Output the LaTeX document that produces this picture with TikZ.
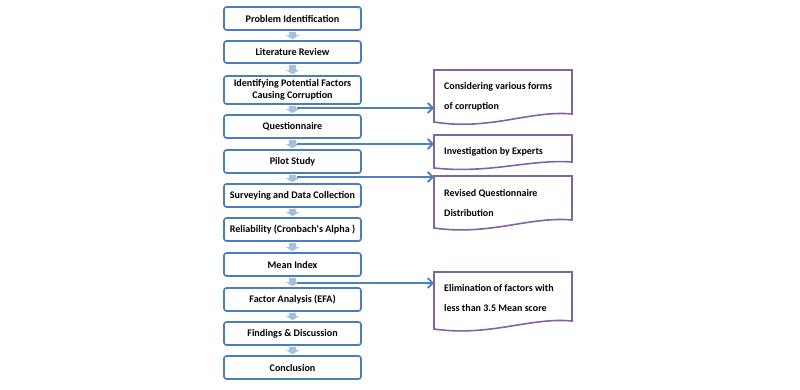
\documentclass[tikz,border=0pt]{standalone}
\usepackage{fontspec}
\setmainfont{Carlito}
\usetikzlibrary{arrows.meta,calc}
\definecolor{boxblue}{HTML}{4A7EBB}
\definecolor{lightarrow}{HTML}{A7BFDE}
\definecolor{linkblue}{HTML}{4F81BD}
\definecolor{docpurple}{HTML}{8064A2}
\tikzset{
  stepbox/.style={draw=boxblue, line width=1.6pt, rounded corners=2.5pt, fill=white,
    minimum width=137pt, inner sep=0pt, align=center, font=\fontsize{10.1}{11.5}\selectfont\bfseries},
  doctext/.style={inner sep=0pt, align=left, anchor=west, font=\fontsize{10}{20}\selectfont\bfseries},
  docline/.style={draw=docpurple, line width=1.6pt, line join=miter},
  linkarrow/.style={draw=linkblue, line width=1.8pt, -{Straight Barb[length=5pt,width=10pt,line width=1.8pt]}},
  smallarrow/.style={fill=lightarrow, draw=none}
}
\begin{document}
\begin{tikzpicture}[x=1pt,y=-1pt]
\useasboundingbox (0,0) rectangle (800,389);
% left boxes
\node[stepbox, minimum height=23pt] (b1) at (292.5,18.5) {Problem Identification};
\node[stepbox, minimum height=22pt] (b2) at (292.5,52) {Literature Review};
\node[stepbox, minimum height=28pt] (b3) at (292.5,90) {Identifying Potential Factors\\Causing Corruption};
\node[stepbox, minimum height=23pt] (b4) at (292.5,126.5) {Questionnaire};
\node[stepbox, minimum height=23pt] (b5) at (292.5,161.5) {Pilot Study};
\node[stepbox, minimum height=23pt] (b6) at (292.5,195.5) {Surveying and Data Collection};
\node[stepbox, minimum height=23pt] (b7) at (292.5,229.5) {Reliability (Cronbach\textquotesingle s Alpha )};
\node[stepbox, minimum height=23pt] (b8) at (292.5,264.5) {Mean Index};
\node[stepbox, minimum height=23pt] (b9) at (292.5,299.5) {Factor Analysis (EFA)};
\node[stepbox, minimum height=23pt] (b10) at (292.5,333.5) {Findings \& Discussion};
\node[stepbox, minimum height=23pt] (b11) at (292.5,367.5) {Conclusion};
% small block arrows
\foreach \a/\b in {b1/b2,b2/b3,b3/b4,b4/b5,b5/b6,b6/b7,b7/b8,b8/b9,b9/b10,b10/b11}{
  \path[smallarrow] ($(\a.south)+(-3.5,1)$) -- ($(\a.south)+(3.5,1)$) -- ($(\b.north)+(3.5,-5)$)
    -- ($(\b.north)+(6.5,-5)$) -- ($(\b.north)+(0,-1)$) -- ($(\b.north)+(-6.5,-5)$)
    -- ($(\b.north)+(-3.5,-5)$) -- cycle;
}
% right document shapes
\draw[docline] (434,70) -- (572,70) -- (572,114) .. controls (530,110) and (490,131) .. (434,122) -- cycle;
\draw[docline] (434,135) -- (572,135) -- (572,162) .. controls (530,159) and (490,174) .. (434,168) -- cycle;
\draw[docline] (434,176) -- (572,176) -- (572,220) .. controls (530,216) and (490,236) .. (434,228) -- cycle;
\draw[docline] (434,272) -- (572,272) -- (572,321) .. controls (530,317) and (490,337) .. (434,329) -- cycle;
\node[doctext] (r1) at (444,97) {Considering various forms\\of corruption};
\node[doctext] (r2) at (444,152) {Investigation by Experts};
\node[doctext] (r3) at (444,203) {Revised Questionnaire\\Distribution};
\node[doctext] (r4) at (444,298.5) {Elimination of factors with\\less than 3.5 Mean score};
\coordinate (w1) at (434,108);
\coordinate (w2) at (434,144);
\coordinate (w3) at (434,177);
\coordinate (w4) at (434,283);
% connectors
\coordinate (s1) at (297,108);
\coordinate (s2) at (297,144);
\coordinate (s3) at (297,177);
\coordinate (s4) at (297,283);
\draw[linkarrow] (s1) -- (w1);
\draw[linkarrow] (s2) -- (w2);
\draw[linkarrow] (s3) -- (w3);
\draw[linkarrow] (s4) -- (w4);
\end{tikzpicture}
\end{document}
